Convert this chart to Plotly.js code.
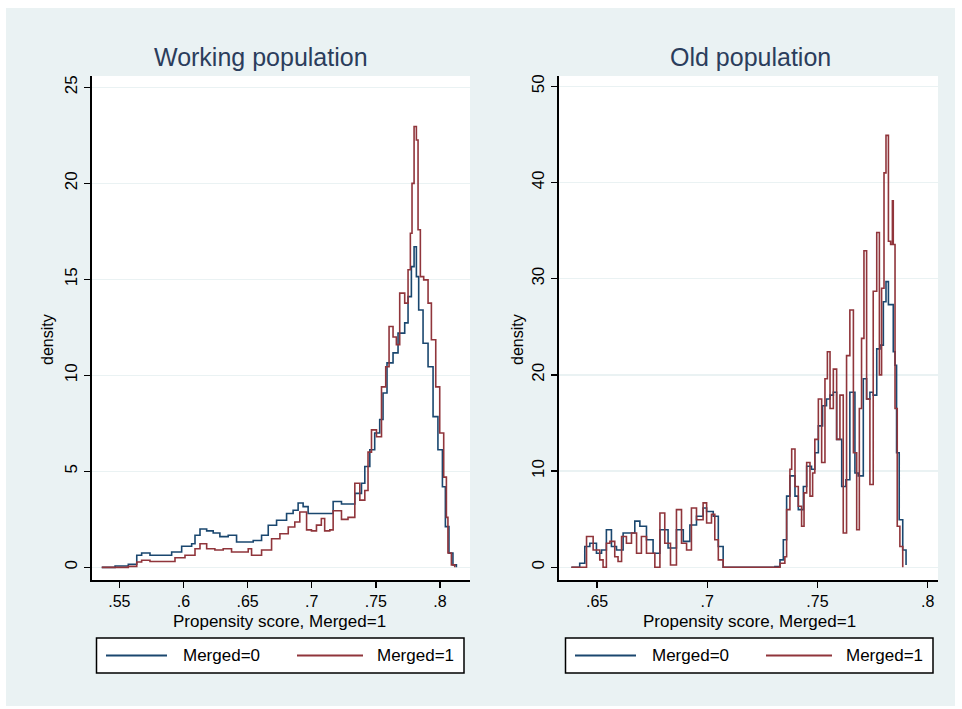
<!DOCTYPE html>
<html>
<head>
<meta charset="utf-8">
<script src="https://cdn.plot.ly/plotly-3.0.1.min.js"></script>
<style>html,body{margin:0;padding:0;background:#fff;}#chart{width:962px;height:709px;}</style>
</head>
<body>
<div id="chart"></div>
<script>
// ---- Data ----
// Working population
const workX0 = [.5363,.5467,.557,.5636,.5674,.5739,.5856,.5908,.5986,.6064,.609,.6129,.6181,.6232,.6284,.6349,.6414,.6492,.6544,.6609,.6661,.6726,.6804,.6855,.6894,.6933,.6972,.7063,.7128,.7167,.7232,.7297,.7336,.7388,.7414,.7453,.7491,.753,.7556,.7587,.7634,.7673,.7725,.7751,.7777,.7798,.7816,.7834,.7868,.7907,.7946,.7984,.8019,.8042,.807,.8101,.8128];
const workY0 = [0,.07,.16,.63,.75,.63,.63,.8,1.1,1.23,1.67,2.0,1.9,1.79,1.6,1.67,1.32,1.32,1.4,1.67,2.19,2.45,2.8,2.97,3.35,3.16,2.8,2.8,2.8,3.43,3.3,3.3,3.85,4.38,5.25,6.12,7.0,7.7,9.08,10.65,11.17,12.2,12.73,14.1,15.66,16.7,15.14,13.4,11.67,10.45,7.85,6.12,4.2,2.12,.74,.13,0];
const workX1 = [.5363,.5467,.557,.5636,.5674,.5739,.5856,.5934,.6012,.609,.6129,.6181,.6245,.631,.6375,.6453,.6505,.6531,.6609,.6687,.6752,.6817,.6868,.6907,.696,.6998,.7037,.7075,.7101,.7141,.7167,.7232,.7283,.7336,.7375,.7414,.7439,.7466,.7505,.7544,.7577,.7603,.7634,.766,.7686,.7725,.7751,.7769,.7782,.7798,.7816,.7829,.7847,.7873,.7907,.7933,.7967,.7998,.8029,.805,.8062,.8089,.8115];
const workY1 = [0,0,.05,.28,.37,.3,.3,.5,.63,.97,1.23,.97,.9,.97,.8,.8,.97,.63,.9,1.49,1.75,2.1,2.36,2.88,1.95,1.9,2.2,2.54,1.9,1.95,2.95,2.5,2.6,4.38,3.5,4.0,6.0,7.16,6.8,9.4,10.45,12.54,12.0,11.6,14.28,13.76,15.5,17.4,20.0,22.96,22.26,17.58,15.14,14.97,13.76,11.85,9.4,7.0,4.7,2.6,.75,.13,0];
// Old population
const oldX0 = [.6383,.6421,.6444,.6467,.6497,.652,.6542,.6565,.6588,.6618,.6648,.6671,.6694,.6724,.6754,.6785,.6822,.686,.6891,.6921,.6951,.6981,.6997,.7027,.705,.7072,.7307,.733,.7345,.736,.7375,.7398,.7413,.7436,.7451,.7473,.7488,.7504,.7523,.7541,.7557,.7572,.7587,.761,.7629,.7647,.767,.7685,.7708,.7723,.7738,.7753,.7769,.7784,.7799,.7811,.7822,.7832,.7844,.7852,.7859,.7871,.7887,.7902];
const oldY0 = [0,.42,2.16,2.5,1.46,1.8,3.9,2.16,1.8,3.56,3.56,4.8,4.26,2.86,1.46,3.9,2.0,3.9,2.7,4.4,5.3,6.17,5.8,5.3,2.16,0,.07,.77,2.86,7.4,9.5,7.4,6.0,8.4,10.5,10.2,11.9,14.7,16.8,17.5,17.9,18.2,13.3,8.4,9.1,18.2,9.8,9.5,19.6,17.5,18.2,17.9,22.7,23.1,27.6,29.7,27.3,27.3,22.4,21.0,11.9,4.95,1.8,.24];
const oldX1 = [.6383,.6436,.6452,.6482,.6512,.6527,.6542,.6558,.658,.6595,.6611,.6633,.6656,.6679,.6701,.6724,.6762,.6785,.6807,.6833,.686,.6883,.6906,.6928,.6951,.6981,.6997,.7019,.7034,.705,.7072,.7307,.733,.7352,.736,.7375,.7383,.7398,.7413,.7428,.7439,.7451,.7466,.7478,.7488,.7504,.7519,.7534,.7545,.7557,.7572,.7587,.7602,.7617,.7632,.7647,.7663,.7678,.769,.77,.7711,.7723,.7738,.7753,.7769,.7781,.7791,.7802,.7811,.7822,.7832,.784,.7844,.7852,.7862,.7874,.7887];
const oldY1 = [0,0,3.2,1.8,.77,0,2.5,2.7,1.1,.6,3.2,2.5,3.56,1.46,3.2,1.46,0,5.65,2.5,.24,6.0,2.5,1.8,6.17,4.95,6.7,4.6,5.5,2.86,.77,0,0,.42,1.1,6.0,10.2,12.3,8.4,6.35,4.26,7.74,10.9,7.4,9.8,13.3,17.5,10.9,19.6,22.4,16.5,20.6,13.3,17.9,3.56,22.0,26.75,11.9,3.9,16.5,23.8,32.9,17.5,8.6,28.7,34.8,20.0,29.0,41.0,44.9,33.9,33.55,38.1,33.55,16.5,4.26,2.16,0];

// Ticks and labels
const workXTicks = [.55,.6,.65,.7,.75,.8];
const workXText = ['.55','.6','.65','.7','.75','.8'];
const workYTicks = [0,5,10,15,20,25];
const oldXTicks = [.65,.7,.75,.8];
const oldXText = ['.65','.7','.75','.8'];
const oldYTicks = [0,10,20,30,40,50];
const panelTitles = ['Working population','Old population'];
const seriesNames = ['Merged=0','Merged=1'];
const xTitle = 'Propensity score, Merged=1';
const yTitle = 'density';

// ---- Styling ----
const W = 962, H = 709;
const BLUE = '#1a476f', RED = '#90353b';
const BG = '#eaf2f3';
const FONT = 'Liberation Sans, Arial, sans-serif';
const fx = p => p / W;
const fy = p => 1 - p / H;

const lineStyle = c => ({color: c, width: 1.6, shape: 'hv'});
const traces = [
  {x: workX0, y: workY0, xaxis: 'x', yaxis: 'y', mode: 'lines', name: seriesNames[0], line: lineStyle(BLUE)},
  {x: workX1, y: workY1, xaxis: 'x', yaxis: 'y', mode: 'lines', name: seriesNames[1], line: lineStyle(RED)},
  {x: oldX0, y: oldY0, xaxis: 'x2', yaxis: 'y2', mode: 'lines', name: seriesNames[0], line: lineStyle(BLUE)},
  {x: oldX1, y: oldY1, xaxis: 'x2', yaxis: 'y2', mode: 'lines', name: seriesNames[1], line: lineStyle(RED)}
];

const yDom = [fy(580), fy(76)];
const xCommon = {
  ticks: 'outside', ticklen: 6, tickwidth: 1.5, tickcolor: '#000',
  showline: true, linecolor: '#000', linewidth: 2, showgrid: false, zeroline: false,
  tickfont: {family: FONT, size: 16, color: '#000'}, tickmode: 'array', fixedrange: true
};
const yCommon = {
  ticks: 'outside', ticklen: 6, tickwidth: 1.5, tickcolor: '#000',
  showline: true, linecolor: '#000', linewidth: 2, showgrid: true, gridcolor: BG, gridwidth: 1.5,
  zeroline: false, tickangle: -90, tickmode: 'array', domain: yDom,
  tickfont: {family: FONT, size: 17, color: '#000'}, fixedrange: true
};

const annotations = [];
const shapes = [];
function addText(text, x, y, size, color, angle, yanchor) {
  annotations.push({text: text, x: fx(x), y: fy(y), xref: 'paper', yref: 'paper',
    showarrow: false, xanchor: 'center', yanchor: yanchor || 'middle', textangle: angle || 0,
    borderpad: 0, font: {family: FONT, size: size, color: color}});
}
// panel titles
addText(panelTitles[0], 261, 57, 25, '#2b3d5c');
addText(panelTitles[1], 750, 57, 25, '#2b3d5c');
// axis titles
addText(xTitle, 279, 611, 17, '#000', 0, 'top');
addText(xTitle, 749, 611, 17, '#000', 0, 'top');
addText(yTitle, 48, 340, 16, '#000', -90);
addText(yTitle, 518, 340, 16, '#000', -90);

// legends
function legend(x0) {
  const y0 = 638, y1 = 673, ym = 655.5;
  shapes.push({type: 'rect', xref: 'paper', yref: 'paper', x0: fx(x0), x1: fx(x0 + 367.5), y0: fy(y1), y1: fy(y0),
    line: {color: '#000', width: 1.5}, fillcolor: '#fff', layer: 'above'});
  shapes.push({type: 'line', xref: 'paper', yref: 'paper', x0: fx(x0 + 9.5), x1: fx(x0 + 70.5), y0: fy(ym), y1: fy(ym),
    line: {color: BLUE, width: 1.8}, layer: 'above'});
  shapes.push({type: 'line', xref: 'paper', yref: 'paper', x0: fx(x0 + 200.5), x1: fx(x0 + 266.5), y0: fy(ym), y1: fy(ym),
    line: {color: RED, width: 1.8}, layer: 'above'});
  annotations.push({text: seriesNames[0], x: fx(x0 + 84.5), y: fy(ym), xref: 'paper', yref: 'paper', showarrow: false,
    xanchor: 'left', yanchor: 'middle', font: {family: FONT, size: 17, color: '#000'}});
  annotations.push({text: seriesNames[1], x: fx(x0 + 278.5), y: fy(ym), xref: 'paper', yref: 'paper', showarrow: false,
    xanchor: 'left', yanchor: 'middle', font: {family: FONT, size: 17, color: '#000'}});
}
legend(96.5);
legend(565.5);

// white outer border
const border = [[0, 0, W, 8], [0, 706, W, H], [0, 0, 6, H], [955, 0, W, H]];
border.forEach(b => shapes.push({type: 'rect', xref: 'paper', yref: 'paper', x0: fx(b[0]), x1: fx(b[2]),
  y0: fy(b[3]), y1: fy(b[1]), line: {width: 0}, fillcolor: '#fff', layer: 'above'}));

const layout = {
  width: W, height: H, autosize: false,
  margin: {l: 0, r: 0, t: 0, b: 0, pad: 0},
  paper_bgcolor: BG, plot_bgcolor: '#fff',
  showlegend: false,
  font: {family: FONT, color: '#000'},
  xaxis: Object.assign({}, xCommon, {domain: [fx(92), fx(470)], range: [.5287, .8234], tickvals: workXTicks, ticktext: workXText, anchor: 'y'}),
  yaxis: Object.assign({}, yCommon, {range: [-0.66, 25.59], tickvals: workYTicks, anchor: 'x'}),
  xaxis2: Object.assign({}, xCommon, {domain: [fx(559), fx(938)], range: [.6327, .8047], tickvals: oldXTicks, ticktext: oldXText, anchor: 'y2'}),
  yaxis2: Object.assign({}, yCommon, {range: [-1.32, 51.07], tickvals: oldYTicks, anchor: 'x2'}),
  annotations: annotations,
  shapes: shapes
};

Plotly.newPlot('chart', traces, layout, {staticPlot: true, displayModeBar: false});
</script>
</body>
</html>
